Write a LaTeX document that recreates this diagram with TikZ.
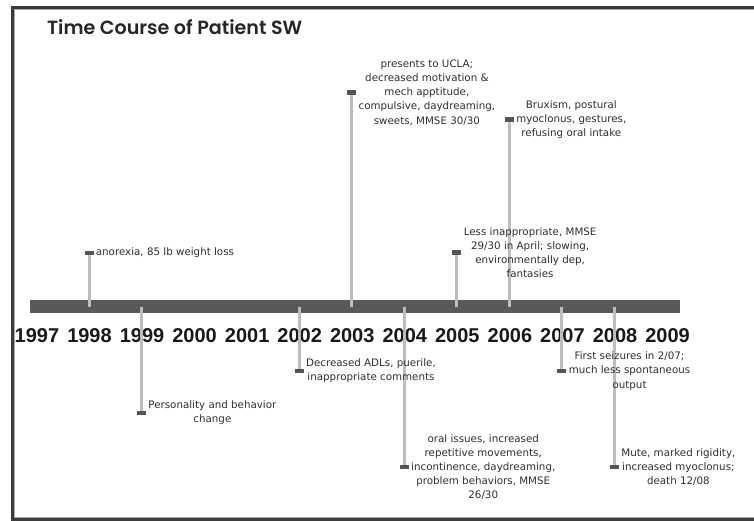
\documentclass[tikz,border=0pt]{standalone}
\usepackage{fontspec}
\setmainfont{DejaVu Sans}
\newfontfamily\yearfont{Liberation Sans}
\IfFontExistsTF{Poppins SemiBold}{\newfontfamily\titlefont{Poppins SemiBold}\newcommand\titleweight{}}{\newfontfamily\titlefont{Poppins}\newcommand\titleweight{\bfseries}}
\usetikzlibrary{positioning}
\definecolor{bardark}{HTML}{595959}
\definecolor{markdark}{HTML}{555555}
\definecolor{stemgray}{HTML}{BDBDBD}
\definecolor{txtgray}{HTML}{2E2E2E}
\definecolor{framegray}{HTML}{3C3C3C}
\definecolor{framelight}{HTML}{A8A8A8}
\tikzset{
  evmark/.style={rectangle, fill=markdark, draw=none, minimum width=9pt, minimum height=4.6pt, inner sep=0pt},
  stemline/.style={draw=stemgray, line width=3pt},
  evtext/.style={anchor=west, align=center, inner sep=2pt, text=txtgray, font=\fontsize{10.3}{14.2}\selectfont},
  yearlbl/.style={font=\yearfont\bfseries\fontsize{20}{22}\selectfont, text=black!90, inner sep=0pt, anchor=base},
}
\begin{document}
\begin{tikzpicture}[x=1pt,y=-1pt]
\useasboundingbox (0,0) rectangle (754,521);
% frame
\draw[framegray, line width=3pt] (754,7.5) -- (12.5,7.5) -- (12.5,519.5) -- (754,519.5);
\draw[framelight, line width=0.8pt] (754,9.6) -- (14.6,9.6) -- (14.6,517.4) -- (754,517.4);
% title
\node[anchor=base west, inner sep=0pt, text=black!85] (title) at (47,35) {\resizebox{255pt}{!}{\titlefont\titleweight Time Course of Patient SW}};
% bar
\node[rectangle, fill=bardark, minimum width=650pt, minimum height=13pt, inner sep=0pt] (bar) at (355,306.5) {};
% years
\foreach \yr in {1997,...,2009}{
  \node[yearlbl] (y\yr) at ({89.5+(\yr-1998)*52.55},342) {\yr};
}
% markers
\node[evmark] (m98) at (89,253) {};
\node[evmark] (m99) at (141.55,413) {};
\node[evmark] (m02) at (299.2,371) {};
\node[evmark] (m03) at (351.75,92.5) {};
\node[evmark] (m04) at (404.3,467) {};
\node[evmark] (m05) at (456.85,252.5) {};
\node[evmark] (m06) at (509.4,119.5) {};
\node[evmark] (m07) at (561.95,371) {};
\node[evmark] (m08) at (614.5,467) {};
% stems
\foreach \m in {m98,m99,m02,m03,m04,m05,m06,m07,m08}{
  \draw[stemline] (\m.center) -- (\m.center |- bar.center);
}
\foreach \m in {m98,m99,m02,m03,m04,m05,m06,m07,m08}{
  \node[evmark] at (\m) {};
}
% texts
\node[evtext] (t98) at (m98.east) {anorexia, 85 lb weight loss};
\node[evtext] (t99) at (m99.east) {Personality and behavior\\change};
\node[evtext] (t02) at (m02.east) {Decreased ADLs, puerile,\\inappropriate comments};
\node[evtext] (t03) at (m03.east) {presents to UCLA;\\decreased motivation \&\\mech apptitude,\\compulsive, daydreaming,\\sweets, MMSE 30/30};
\node[evtext] (t04) at (m04.east) {oral issues, increased\\repetitive movements,\\incontinence, daydreaming,\\problem behaviors, MMSE\\26/30};
\node[evtext] (t05) at (m05.east) {Less inappropriate, MMSE\\29/30 in April; slowing,\\environmentally dep,\\fantasies};
\node[evtext] (t06) at (m06.east) {Bruxism, postural\\myoclonus, gestures,\\refusing oral intake};
\node[evtext] (t07) at (m07.east) {First seizures in 2/07;\\much less spontaneous\\output};
\node[evtext] (t08) at (m08.east) {Mute, marked rigidity,\\increased myoclonus;\\death 12/08};
\end{tikzpicture}
\end{document}
